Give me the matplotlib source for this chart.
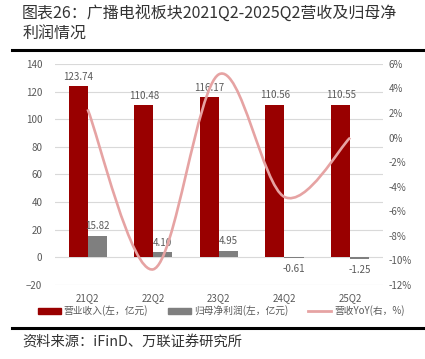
import numpy as np
import matplotlib
matplotlib.use("Agg")
import matplotlib.pyplot as plt
from matplotlib.path import Path
from matplotlib.patches import PathPatch, Patch
from matplotlib.lines import Line2D

plt.rcParams['font.family'] = ['Noto Sans CJK SC', 'DejaVu Sans']

# data
quarters = ['21Q2', '22Q2', '23Q2', '24Q2', '25Q2']
revenue = [123.74, 110.48, 116.17, 110.56, 110.55]      # 亿元
net_profit = [15.82, 4.10, 4.95, -0.61, -1.25]          # 亿元
revenue_yoy = [2.3, -10.72, 5.15, -4.83, -0.01]         # %

RED = '#990000'
GRAY = '#7f7f7f'
PINK = '#e6a3a3'
TXT = '#595959'


def smooth_path(xs, ys):
    # catmull-rom style bezier, similar to a "smoothed line" in office charts
    pts = np.column_stack([xs, ys]).astype(float)
    ext = np.vstack([pts[0], pts, pts[-1]])
    verts = [tuple(pts[0])]
    codes = [Path.MOVETO]
    for i in range(len(pts) - 1):
        p0, p1, p2, p3 = ext[i], ext[i + 1], ext[i + 2], ext[i + 3]
        c1 = p1 + (p2 - p0) / 6
        c2 = p2 - (p3 - p1) / 6
        verts += [tuple(c1), tuple(c2), tuple(p2)]
        codes += [Path.CURVE4] * 3
    return Path(verts, codes)


fig = plt.figure(figsize=(4.25, 3.59), dpi=100)
ax = fig.add_axes([0.129, 0.206, 0.772, 0.616])
ax2 = ax.twinx()

x = np.arange(len(quarters))
w = 0.29
ax.bar(x - w / 2, revenue, w, color=RED, zorder=2)
ax.bar(x + w / 2, net_profit, w, color=GRAY, zorder=2)

for xi, v in zip(x, revenue):
    ax.text(xi - w / 2, v + 3, f'{v:.2f}', ha='center', va='bottom',
            fontsize=7, color=TXT)
for xi, v in zip(x, net_profit):
    if v >= 0:
        ax.text(xi + w / 2, v + 3, f'{v:.2f}', ha='center', va='bottom',
                fontsize=7, color=TXT)
    else:
        ax.text(xi + w / 2, v - 4, f'{v:.2f}', ha='center', va='top',
                fontsize=7, color=TXT)

ax.set_xlim(-0.5, len(quarters) - 0.5)
ax.set_ylim(-20, 140)
ax.set_yticks(np.arange(-20, 141, 20))
ax.set_xticks(x)
ax.set_xticklabels(quarters)
ax.grid(axis='y', color='#d9d9d9', linewidth=0.8, zorder=0)
ax.set_axisbelow(True)

ax2.add_patch(PathPatch(smooth_path(x, revenue_yoy), facecolor='none',
                        edgecolor=PINK, linewidth=1.9, zorder=3))
ax2.set_ylim(-12, 6)
ax2.set_yticks(np.arange(-12, 7, 2))
ax2.set_yticklabels([f'{t}%' for t in range(-12, 7, 2)])

for a in (ax, ax2):
    for s in a.spines.values():
        s.set_visible(False)
    a.tick_params(length=0, labelsize=7, colors=TXT)
ax.tick_params(axis='x', pad=6)
ax.tick_params(axis='y', pad=9)
ax2.tick_params(axis='y', pad=4)

handles = [Patch(color=RED), Patch(color=GRAY), Line2D([], [], color=PINK, lw=2)]
labels = ['营业收入(左，亿元)', '归母净利润(左，亿元)', '营收YoY(右，%)']
fig.legend(handles, labels, loc='center', bbox_to_anchor=(0.52, 0.134),
           ncol=3, frameon=False, fontsize=7, handlelength=2.4,
           handleheight=0.5, columnspacing=2.0, handletextpad=0.3,
           labelcolor=TXT)

fig.text(0.052, 0.962, '图表26：广播电视板块2021Q2-2025Q2营收及归母净',
         fontsize=11.5, va='center', ha='left', color='#333333')
fig.text(0.052, 0.905, '利润情况', fontsize=11.5, va='center', ha='left',
         color='#333333')
fig.add_artist(Line2D([0.028, 1.0], [0.861, 0.861], color='black', lw=2.2))
fig.add_artist(Line2D([0.028, 1.0], [0.087, 0.087], color='black', lw=2.2))
fig.text(0.052, 0.047, '资料来源：iFinD、万联证券研究所', fontsize=10.3,
         style='italic', va='center', ha='left', color='#333333')

fig.savefig('out.png', dpi=100)
